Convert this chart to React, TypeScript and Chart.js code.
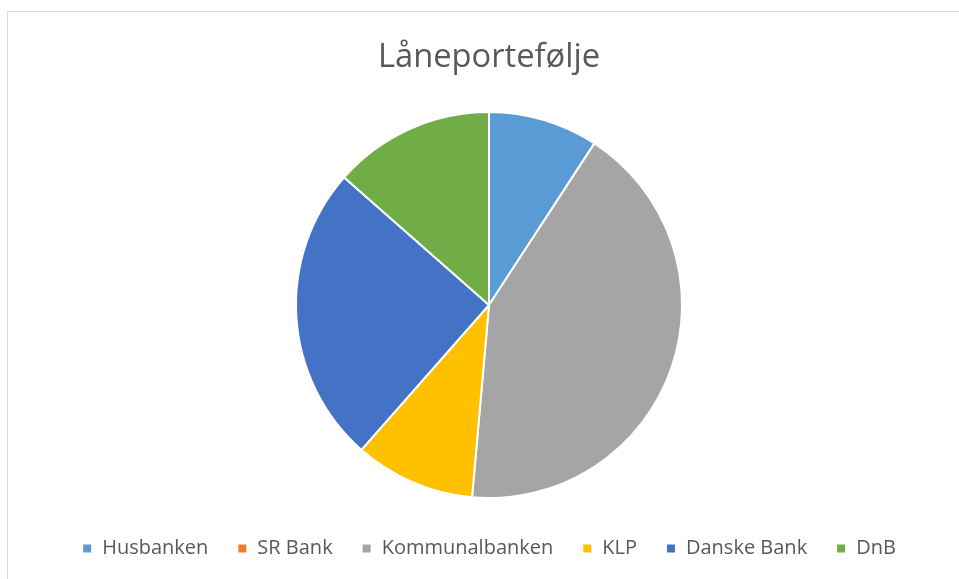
import React, { useEffect, useRef } from "react";
import { Chart, registerables } from "chart.js";

Chart.register(...registerables);

const TITLE = "Låneportefølje";
const categories = ["Husbanken", "SR Bank", "Kommunalbanken", "KLP", "Danske Bank", "DnB"];
const shares = [9.2, 0, 42.2, 10.1, 25, 13.5];
const colors = ["#5B9BD5", "#ED7D31", "#A5A5A5", "#FFC000", "#4472C4", "#70AD47"];

export default function App() {
  const ref = useRef<HTMLCanvasElement | null>(null);

  useEffect(() => {
    if (!ref.current) return;
    const chart = new Chart(ref.current, {
      type: "pie",
      data: {
        labels: categories,
        datasets: [
          {
            data: shares,
            backgroundColor: colors,
            borderColor: "#ffffff",
            borderWidth: 2,
          },
        ],
      },
      options: {
        responsive: false,
        animation: false,
        events: [],
        radius: 193,
        layout: { padding: { left: 19, right: 0, top: 0, bottom: 10.5 } },
        plugins: {
          title: {
            display: true,
            text: TITLE,
            color: "#595959",
            font: { family: "'Open Sans'", size: 32.7, weight: "normal" },
            padding: { top: 37.9, bottom: 23.4 },
          },
          legend: {
            display: true,
            position: "bottom",
            labels: {
              color: "#595959",
              font: { family: "'Open Sans'", size: 20 },
              boxWidth: 10,
              boxHeight: 10,
              padding: 29,
            },
          },
          tooltip: { enabled: false },
        },
      },
    });
    return () => chart.destroy();
  }, []);

  return (
    <div
      style={{
        position: "fixed",
        left: 0,
        top: 0,
        width: 959,
        height: 579,
        overflow: "hidden",
        background: "#ffffff",
      }}
    >
      <div
        style={{
          position: "absolute",
          left: 7,
          top: 11,
          width: 1000,
          height: 700,
          border: "1px solid #d9d9d9",
          boxSizing: "border-box",
        }}
      />
      <canvas
        ref={ref}
        width={959}
        height={579}
        style={{ position: "absolute", left: 0, top: 0, width: 959, height: 579 }}
      />
    </div>
  );
}
